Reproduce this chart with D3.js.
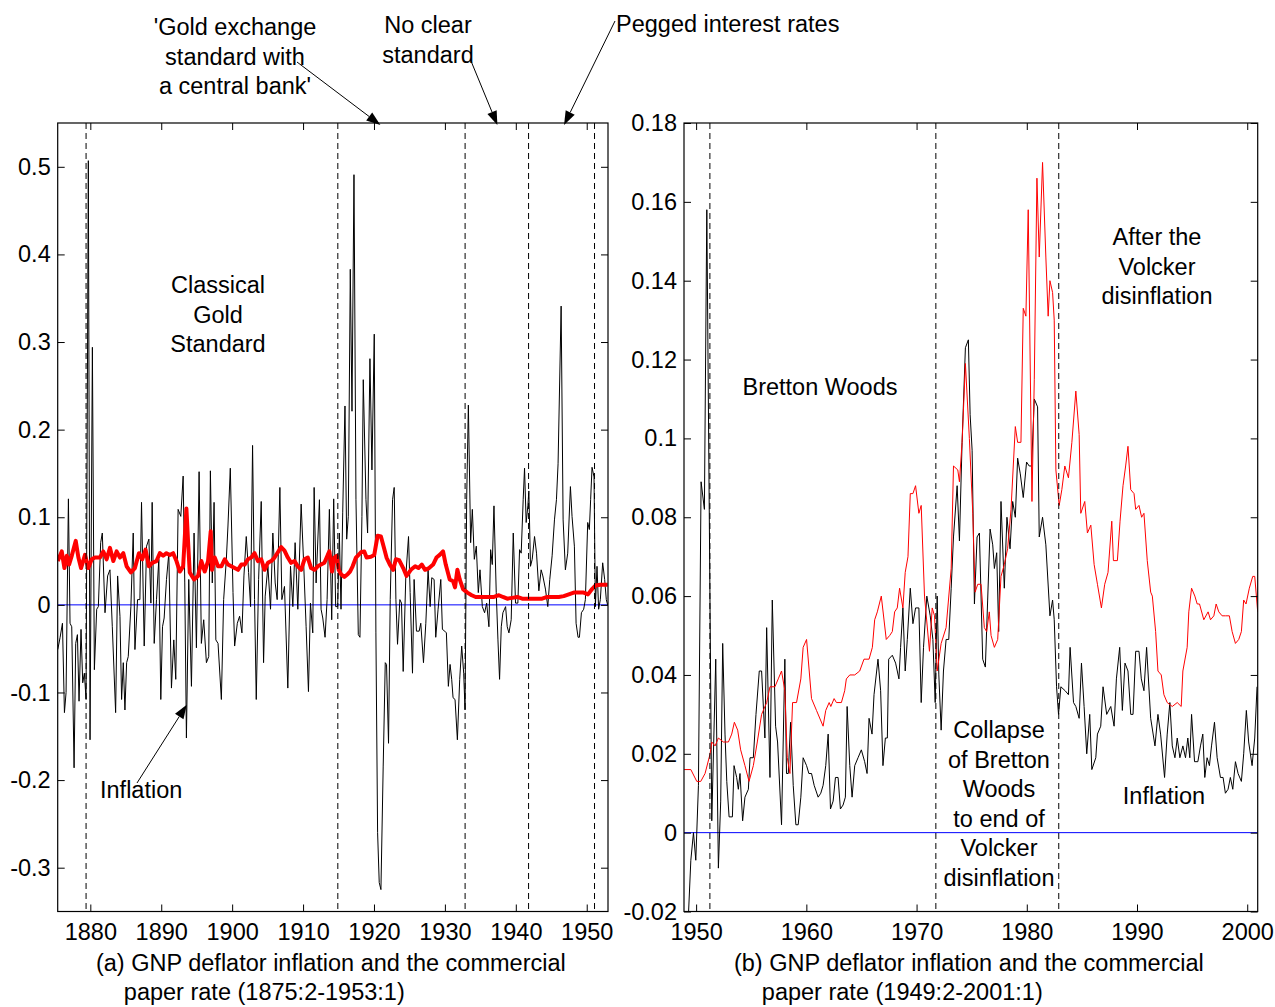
<!DOCTYPE html>
<html>
<head>
<meta charset="utf-8">
<script src="https://cdn.jsdelivr.net/npm/d3@7"></script>
<style>
  body { margin: 0; background: #fff; }
  svg text { font-family: "Liberation Sans", Arial, Helvetica, sans-serif; font-size: 23.5px; fill: #000; }
</style>
</head>
<body>
<svg id="chart" width="1275" height="1007"></svg>
<script>
// ---- panel (a): 1875:2 - 1953:1, [year, value]
var leftInflation = [
  [1875.41,-0.051],[1875.74,-0.037],[1876.07,-0.021],[1876.35,-0.123],[1876.58,-0.1],[1876.91,0.121],
  [1877.14,-0.021],[1877.38,-0.025],[1877.71,-0.186],[1877.94,-0.044],[1878.18,-0.034],[1878.41,-0.11],
  [1878.69,-0.028],[1878.93,-0.089],[1879.16,-0.078],[1879.4,-0.108],[1879.72,0.507],[1879.96,-0.154],
  [1880.29,0.294],[1880.57,-0.074],[1880.9,-0.005],[1881.13,-0.002],[1881.46,0.071],[1881.69,0.082],
  [1882.07,-0.009],[1882.44,0.033],[1882.77,0.04],[1883.1,-0.025],[1883.57,-0.123],[1883.85,0.033],
  [1884.18,-0.013],[1884.41,-0.108],[1884.65,-0.066],[1884.88,-0.12],[1885.12,-0.066],[1885.35,-0.059],
  [1885.72,-0.002],[1886.05,0.082],[1886.29,-0.051],[1886.66,0.006],[1886.99,0.006],[1887.22,0.117],
  [1887.6,-0.047],[1887.93,0.067],[1888.26,0.075],[1888.54,0.002],[1888.72,0.117],[1889.01,-0.044],
  [1889.33,0.006],[1889.66,0.052],[1889.94,-0.108],[1890.18,-0.025],[1890.41,-0.015],[1890.74,0.029],
  [1891.07,0.059],[1891.44,-0.095],[1891.77,-0.04],[1892.05,-0.085],[1892.38,0.109],[1892.76,0.101],
  [1893.09,0.147],[1893.32,0.025],[1893.55,-0.152],[1893.88,0.029],[1894.26,-0.093],[1894.63,0.082],
  [1894.96,-0.049],[1895.34,0.152],[1895.66,-0.044],[1895.99,-0.017],[1896.37,-0.066],[1896.7,-0.059],
  [1896.93,0.153],[1897.2,0.025],[1897.45,0.117],[1897.7,-0.04],[1898.01,-0.044],[1898.48,-0.108],
  [1898.8,0.006],[1899.18,0.052],[1899.41,0.09],[1899.74,0.156],[1900.12,0.014],[1900.35,-0.047],
  [1900.73,-0.021],[1901.05,-0.013],[1901.38,-0.032],[1901.66,0.033],[1901.99,0.078],[1902.32,0.037],
  [1902.6,-0.002],[1902.88,0.182],[1903.16,0.006],[1903.4,-0.108],[1903.73,0.029],[1904.1,0.118],
  [1904.43,-0.066],[1904.66,0.01],[1905.04,0.044],[1905.41,-0.005],[1905.74,0.082],[1906.07,0.025],
  [1906.35,0.006],[1906.73,0.134],[1907.01,0.006],[1907.38,0.021],[1907.85,-0.095],[1908.23,0.044],
  [1908.56,-0.002],[1908.88,0.071],[1909.26,-0.005],[1909.73,0.115],[1910.1,0.044],[1910.43,-0.025],
  [1910.76,-0.099],[1911.04,0.002],[1911.37,-0.032],[1911.56,0.134],[1911.84,0.025],[1912.31,0.12],
  [1912.54,-0.005],[1912.78,-0.015],[1913.1,-0.037],[1913.39,0.006],[1913.71,0.109],[1914.04,-0.017],
  [1914.32,0.121],[1914.6,-0.002],[1914.88,-0.002],[1915.12,0.082],[1915.35,-0.005],[1915.59,0.105],
  [1915.91,0.227],[1916.15,0.075],[1916.38,0.101],[1916.66,0.383],[1916.9,0.221],[1917.18,0.491],
  [1917.46,0.12],[1917.79,-0.034],[1918.02,-0.037],[1918.3,0.101],[1918.49,0.257],[1918.87,0.12],
  [1919.1,0.082],[1919.43,0.281],[1919.71,0.154],[1920.04,0.309],[1920.27,-0.032],[1920.51,-0.26],
  [1920.74,-0.317],[1920.98,-0.325],[1921.3,-0.184],[1921.59,-0.066],[1921.77,-0.068],[1922.05,-0.158],
  [1922.29,0.006],[1922.62,0.12],[1922.85,0.134],[1923.09,0.006],[1923.32,-0.045],[1923.65,0.006],
  [1923.88,0.002],[1924.12,-0.076],[1924.49,0.033],[1924.87,0.078],[1925.1,0.014],[1925.43,-0.078],
  [1925.66,0.029],[1925.99,-0.03],[1926.37,-0.03],[1926.6,-0.021],[1926.98,-0.066],[1927.31,-0.021],
  [1927.63,0.04],[1927.92,-0.002],[1928.15,0.031],[1928.48,0.029],[1928.71,-0.037],[1929.04,-0.005],
  [1929.42,0.029],[1929.65,-0.028],[1929.98,-0.03],[1930.21,-0.032],[1930.49,-0.093],[1930.73,-0.068],
  [1930.96,-0.085],[1931.15,-0.106],[1931.43,-0.108],[1931.76,-0.154],[1932.09,-0.085],[1932.37,-0.047],
  [1932.65,-0.078],[1932.84,-0.12],[1933.07,0.12],[1933.31,0.228],[1933.63,0.071],[1933.87,0.109],
  [1934.15,0.052],[1934.43,0.067],[1934.71,0.014],[1934.95,0.04],[1935.28,-0.002],[1935.6,-0.009],
  [1935.89,0.002],[1936.21,-0.025],[1936.45,0.063],[1936.68,0.046],[1936.92,0.113],[1937.24,0.014],
  [1937.48,-0.04],[1937.71,-0.085],[1937.95,-0.025],[1938.18,-0.009],[1938.56,-0.002],[1938.79,-0.025],
  [1939.03,-0.032],[1939.35,-0.017],[1939.64,0.082],[1939.96,0.002],[1940.29,0.002],[1940.53,0.063],
  [1940.76,0.059],[1941.04,0.12],[1941.23,0.156],[1941.46,0.094],[1941.7,0.113],[1941.84,0.13],
  [1942.07,0.044],[1942.31,0.052],[1942.64,0.078],[1942.92,0.059],[1943.25,0.016],[1943.57,0.04],
  [1943.81,0.033],[1944.18,0.018],[1944.51,-0.002],[1944.79,0.029],[1945.12,0.056],[1945.45,0.097],
  [1945.73,0.12],[1945.96,0.161],[1946.39,0.341],[1946.67,0.097],[1946.99,0.04],[1947.32,0.059],
  [1947.7,0.135],[1947.93,0.101],[1948.26,0.067],[1948.5,-0.021],[1948.78,-0.037],[1948.97,-0.037],
  [1949.25,-0.009],[1949.57,-0.005],[1949.81,0.006],[1950.14,0.094],[1950.37,0.086],[1950.55,0.12],
  [1950.75,0.157],[1951.03,0.146],[1951.22,-0.002],[1951.45,0.044],[1951.68,-0.005],[1951.92,0.006],
  [1952.25,0.048],[1952.53,0.029],[1952.76,0.006],[1952.95,0.0]
];

var leftRate = [
  [1875.41,0.05],[1875.97,0.061],[1876.35,0.042],[1876.68,0.056],[1877.0,0.046],[1877.38,0.056],
  [1877.94,0.073],[1878.32,0.054],[1878.69,0.042],[1879.25,0.057],[1879.72,0.042],[1880.19,0.052],
  [1880.66,0.054],[1881.36,0.054],[1881.83,0.061],[1882.3,0.052],[1882.77,0.065],[1883.24,0.05],
  [1883.71,0.061],[1884.18,0.054],[1884.65,0.059],[1885.12,0.044],[1885.72,0.037],[1886.29,0.042],
  [1886.85,0.059],[1887.32,0.052],[1887.79,0.063],[1888.26,0.044],[1888.72,0.048],[1889.33,0.05],
  [1889.8,0.059],[1890.27,0.056],[1890.74,0.059],[1891.21,0.057],[1891.68,0.059],[1892.15,0.05],
  [1892.62,0.038],[1893.09,0.044],[1893.55,0.11],[1893.79,0.071],[1894.02,0.037],[1894.63,0.029],
  [1895.19,0.033],[1895.66,0.05],[1896.13,0.038],[1896.6,0.05],[1896.98,0.084],[1897.16,0.04],
  [1897.54,0.054],[1898.01,0.044],[1898.48,0.044],[1898.95,0.052],[1899.41,0.046],[1899.88,0.044],
  [1900.35,0.042],[1900.82,0.04],[1901.29,0.046],[1901.76,0.046],[1902.23,0.052],[1902.7,0.054],
  [1903.16,0.059],[1903.63,0.05],[1904.1,0.052],[1904.57,0.04],[1905.04,0.048],[1905.51,0.05],
  [1905.98,0.054],[1906.45,0.06],[1906.91,0.066],[1907.38,0.062],[1907.85,0.054],[1908.32,0.048],
  [1908.79,0.05],[1909.26,0.044],[1909.73,0.04],[1910.2,0.052],[1910.67,0.054],[1911.13,0.042],
  [1911.6,0.04],[1912.07,0.044],[1912.54,0.046],[1913.01,0.048],[1913.48,0.057],[1913.71,0.061],
  [1914.08,0.038],[1914.41,0.054],[1914.74,0.056],[1915.02,0.04],[1915.35,0.035],[1915.82,0.032],
  [1916.29,0.035],[1916.62,0.038],[1916.99,0.044],[1917.46,0.054],[1918.16,0.06],[1918.63,0.061],
  [1918.96,0.054],[1919.57,0.055],[1920.04,0.057],[1920.51,0.079],[1920.98,0.078],[1921.35,0.067],
  [1921.77,0.054],[1922.24,0.046],[1922.71,0.04],[1923.09,0.052],[1923.55,0.051],[1924.12,0.042],
  [1924.59,0.033],[1925.2,0.04],[1925.81,0.044],[1926.27,0.042],[1926.74,0.046],[1927.21,0.04],
  [1927.77,0.042],[1928.34,0.046],[1928.81,0.054],[1929.27,0.057],[1929.74,0.061],[1930.12,0.046],
  [1930.68,0.029],[1931.15,0.027],[1931.43,0.02],[1931.76,0.04],[1932.09,0.029],[1932.56,0.018],
  [1933.17,0.014],[1933.78,0.011],[1934.34,0.009],[1935.28,0.009],[1936.21,0.009],[1936.92,0.009],
  [1937.62,0.011],[1938.18,0.009],[1938.79,0.007],[1939.49,0.008],[1940.2,0.009],[1940.9,0.007],
  [1941.84,0.007],[1942.78,0.007],[1943.71,0.007],[1944.42,0.009],[1945.12,0.009],[1946.06,0.009],
  [1946.76,0.01],[1947.47,0.012],[1948.17,0.014],[1948.87,0.014],[1949.57,0.014],[1950.18,0.012],
  [1950.75,0.018],[1951.22,0.022],[1951.92,0.023],[1952.76,0.023],[1952.95,0.023]
];

// ---- panel (b): 1949:2 - 2001:1, [year, value]
var rightInflation = [
  [1948.95,-0.024],[1949.3,-0.021],[1949.52,-0.007],[1949.76,0.0],[1949.97,-0.007],[1950.21,0.012],
  [1950.45,0.089],[1950.75,0.082],[1950.97,0.158],[1951.42,0.003],[1951.78,0.044],[1952.02,-0.009],
  [1952.23,0.008],[1952.41,0.048],[1952.62,0.025],[1952.78,0.013],[1952.99,0.004],[1953.29,0.004],
  [1953.44,0.017],[1953.68,0.014],[1953.83,0.011],[1953.98,0.015],[1954.22,0.003],[1954.43,0.009],
  [1954.74,0.011],[1954.89,0.019],[1955.19,0.019],[1955.43,0.03],[1955.73,0.041],[1955.94,0.041],
  [1956.24,0.024],[1956.4,0.052],[1956.7,0.014],[1956.91,0.059],[1957.21,0.027],[1957.39,0.023],
  [1957.75,0.002],[1958.05,0.044],[1958.2,0.015],[1958.36,0.015],[1958.57,0.028],[1958.81,0.012],
  [1959.05,0.002],[1959.26,0.002],[1959.5,0.009],[1959.71,0.019],[1960.02,0.017],[1960.23,0.015],
  [1960.47,0.015],[1960.71,0.012],[1961.07,0.009],[1961.31,0.01],[1961.52,0.012],[1961.76,0.017],
  [1961.98,0.025],[1962.19,0.006],[1962.43,0.008],[1962.64,0.014],[1962.88,0.014],[1963.09,0.006],
  [1963.33,0.007],[1963.54,0.009],[1963.7,0.032],[1963.94,0.017],[1964.15,0.009],[1964.39,0.017],
  [1964.69,0.019],[1964.99,0.021],[1965.29,0.018],[1965.51,0.015],[1965.69,0.029],[1965.96,0.025],
  [1966.14,0.035],[1966.5,0.044],[1966.74,0.036],[1966.95,0.017],[1967.17,0.024],[1967.35,0.024],
  [1967.47,0.044],[1967.8,0.045],[1968.1,0.043],[1968.4,0.039],[1968.55,0.047],[1968.76,0.057],
  [1968.97,0.041],[1969.16,0.049],[1969.43,0.062],[1969.67,0.053],[1969.91,0.057],[1970.21,0.057],
  [1970.42,0.033],[1970.63,0.047],[1970.93,0.06],[1971.24,0.055],[1971.48,0.049],[1971.69,0.033],
  [1971.87,0.06],[1972.02,0.04],[1972.23,0.026],[1972.44,0.041],[1972.68,0.049],[1972.92,0.049],
  [1973.14,0.062],[1973.35,0.075],[1973.68,0.088],[1973.89,0.074],[1974.13,0.099],[1974.43,0.123],
  [1974.7,0.125],[1974.86,0.106],[1975.04,0.097],[1975.25,0.058],[1975.49,0.075],[1975.7,0.076],
  [1976.0,0.044],[1976.24,0.042],[1976.45,0.059],[1976.67,0.077],[1976.91,0.073],[1977.06,0.067],
  [1977.27,0.071],[1977.45,0.051],[1977.66,0.084],[1977.96,0.062],[1978.2,0.08],[1978.48,0.072],
  [1978.72,0.084],[1978.96,0.08],[1979.17,0.095],[1979.41,0.091],[1979.68,0.085],[1979.98,0.094],
  [1980.22,0.093],[1980.44,0.093],[1980.68,0.11],[1980.98,0.108],[1981.13,0.075],[1981.43,0.08],
  [1981.73,0.073],[1982.1,0.055],[1982.34,0.059],[1982.49,0.054],[1982.7,0.037],[1982.88,0.03],
  [1983.09,0.037],[1983.48,0.036],[1983.78,0.035],[1983.93,0.047],[1984.24,0.033],[1984.45,0.032],
  [1984.75,0.029],[1984.96,0.043],[1985.2,0.032],[1985.44,0.02],[1985.71,0.03],[1985.9,0.016],
  [1986.26,0.019],[1986.41,0.025],[1986.71,0.027],[1986.92,0.037],[1987.25,0.03],[1987.62,0.032],
  [1987.92,0.027],[1988.13,0.039],[1988.43,0.047],[1988.67,0.031],[1988.91,0.043],[1989.18,0.041],
  [1989.43,0.03],[1989.64,0.03],[1989.88,0.046],[1990.18,0.046],[1990.39,0.039],[1990.63,0.036],
  [1990.87,0.047],[1991.24,0.029],[1991.63,0.022],[1991.9,0.03],[1992.14,0.025],[1992.5,0.014],
  [1992.74,0.025],[1992.98,0.033],[1993.2,0.022],[1993.44,0.019],[1993.65,0.024],[1993.89,0.019],
  [1994.16,0.022],[1994.4,0.019],[1994.61,0.024],[1994.79,0.019],[1994.95,0.03],[1995.22,0.018],
  [1995.52,0.018],[1995.76,0.022],[1995.97,0.025],[1996.15,0.014],[1996.36,0.019],[1996.57,0.017],
  [1996.76,0.022],[1997.03,0.028],[1997.27,0.019],[1997.57,0.014],[1997.81,0.014],[1998.02,0.01],
  [1998.26,0.011],[1998.47,0.014],[1998.69,0.011],[1998.93,0.018],[1999.17,0.015],[1999.47,0.013],
  [1999.68,0.02],[1999.92,0.031],[2000.13,0.023],[2000.44,0.017],[2000.68,0.024],[2000.89,0.037]
];

var rightRate = [
  [1948.91,0.016],[1949.52,0.016],[1950.06,0.013],[1950.42,0.013],[1950.81,0.015],[1951.27,0.02],
  [1951.42,0.023],[1951.72,0.022],[1952.02,0.024],[1952.47,0.023],[1952.93,0.023],[1953.23,0.025],
  [1953.47,0.028],[1953.77,0.026],[1954.04,0.021],[1954.43,0.017],[1954.8,0.013],[1955.19,0.017],
  [1955.55,0.023],[1955.94,0.03],[1956.4,0.033],[1956.7,0.037],[1957.15,0.037],[1957.45,0.039],
  [1957.75,0.041],[1958.05,0.036],[1958.27,0.019],[1958.51,0.015],[1958.75,0.033],[1959.11,0.033],
  [1959.5,0.039],[1959.71,0.047],[1960.02,0.049],[1960.47,0.034],[1960.92,0.031],[1961.52,0.027],
  [1961.76,0.031],[1962.07,0.033],[1962.22,0.032],[1962.52,0.034],[1962.73,0.033],[1963.18,0.033],
  [1963.48,0.036],[1963.63,0.039],[1963.94,0.04],[1964.39,0.04],[1964.84,0.041],[1965.23,0.044],
  [1965.69,0.044],[1965.99,0.047],[1966.2,0.054],[1966.44,0.056],[1966.8,0.06],[1967.25,0.049],
  [1967.56,0.05],[1967.8,0.051],[1968.01,0.056],[1968.25,0.057],[1968.46,0.062],[1968.76,0.057],
  [1968.97,0.066],[1969.22,0.07],[1969.43,0.086],[1969.67,0.086],[1969.91,0.088],[1970.21,0.081],
  [1970.42,0.083],[1970.72,0.06],[1971.17,0.046],[1971.42,0.057],[1971.63,0.055],[1971.87,0.041],
  [1972.23,0.048],[1972.68,0.052],[1973.14,0.067],[1973.35,0.093],[1973.74,0.092],[1973.89,0.089],
  [1974.13,0.099],[1974.43,0.119],[1974.79,0.1],[1975.1,0.081],[1975.31,0.061],[1975.55,0.063],
  [1975.85,0.063],[1976.15,0.052],[1976.36,0.051],[1976.6,0.056],[1976.76,0.05],[1977.06,0.047],
  [1977.36,0.049],[1977.66,0.065],[1977.96,0.068],[1978.26,0.072],[1978.57,0.082],[1978.96,0.103],
  [1979.17,0.099],[1979.47,0.099],[1979.68,0.133],[1979.92,0.131],[1980.13,0.158],[1980.47,0.084],
  [1980.68,0.115],[1980.92,0.166],[1981.13,0.146],[1981.43,0.17],[1981.73,0.146],[1981.94,0.131],
  [1982.1,0.14],[1982.34,0.137],[1982.49,0.13],[1982.64,0.092],[1982.94,0.083],[1983.18,0.087],
  [1983.45,0.093],[1983.78,0.09],[1984.09,0.099],[1984.45,0.112],[1984.75,0.101],[1984.9,0.081],
  [1985.26,0.084],[1985.5,0.076],[1985.81,0.078],[1986.11,0.068],[1986.41,0.063],[1986.77,0.057],
  [1987.07,0.063],[1987.37,0.066],[1987.71,0.079],[1987.86,0.069],[1988.22,0.069],[1988.46,0.079],
  [1988.73,0.088],[1988.97,0.093],[1989.18,0.098],[1989.43,0.087],[1989.73,0.086],[1989.88,0.082],
  [1990.18,0.083],[1990.42,0.08],[1990.63,0.081],[1990.93,0.069],[1991.24,0.061],[1991.39,0.06],
  [1991.69,0.051],[1991.9,0.041],[1992.2,0.04],[1992.44,0.035],[1992.74,0.033],[1993.2,0.032],
  [1993.65,0.033],[1994.01,0.032],[1994.16,0.041],[1994.55,0.047],[1994.7,0.056],[1994.95,0.062],
  [1995.25,0.06],[1995.46,0.058],[1995.67,0.058],[1996.06,0.054],[1996.45,0.056],[1996.67,0.054],
  [1996.97,0.055],[1997.18,0.058],[1997.42,0.056],[1997.72,0.055],[1998.02,0.055],[1998.38,0.055],
  [1998.63,0.051],[1998.93,0.048],[1999.23,0.049],[1999.47,0.051],[1999.68,0.059],[1999.89,0.058],
  [2000.19,0.062],[2000.5,0.065],[2000.68,0.065],[2000.83,0.06],[2000.95,0.056]
];

// regime breaks (dashed lines)
var leftBreaks = [1879.4, 1914.9, 1932.85, 1941.8, 1951.1];
var rightBreaks = [1951.25, 1971.75, 1982.9];

// ticks
var leftXTicks = [1880, 1890, 1900, 1910, 1920, 1930, 1940, 1950];
var leftYTicks = [-0.3, -0.2, -0.1, 0, 0.1, 0.2, 0.3, 0.4, 0.5];
var rightXTicks = [1950, 1960, 1970, 1980, 1990, 2000];
var rightYTicks = [-0.02, 0, 0.02, 0.04, 0.06, 0.08, 0.1, 0.12, 0.14, 0.16, 0.18];

var svg = d3.select('#chart');

function fmtY(d) {
  return d === 0 ? '0' : String(+d.toFixed(2));
}

function addText(lines, x, y, anchor) {
  var t = svg.append('text').attr('text-anchor', anchor || 'middle');
  lines.forEach(function(s, i) {
    t.append('tspan').attr('x', x).attr('y', y + i * 29.5).text(s);
  });
  return t;
}

function arrow(x1, y1, x2, y2) {
  var a = Math.atan2(y2 - y1, x2 - x1);
  var len = 14, hw = 5;
  var bx = x2 - len * Math.cos(a), by = y2 - len * Math.sin(a);
  svg.append('line')
    .attr('x1', x1).attr('y1', y1).attr('x2', bx).attr('y2', by)
    .attr('stroke', '#000').attr('stroke-width', 1);
  svg.append('polygon')
    .attr('points', [
      [x2, y2],
      [bx + hw * Math.sin(a), by - hw * Math.cos(a)],
      [bx - hw * Math.sin(a), by + hw * Math.cos(a)]
    ].map(function(p) { return p.join(','); }).join(' '))
    .attr('fill', '#000');
}

function drawPanel(p) {
  var x = d3.scaleLinear().domain(p.xDomain).range([p.left, p.right]);
  var y = d3.scaleLinear().domain(p.yDomain).range([p.bottom, p.top]);

  svg.append('clipPath').attr('id', p.id + '-clip')
    .append('rect')
    .attr('x', p.left).attr('y', p.top)
    .attr('width', p.right - p.left).attr('height', p.bottom - p.top);

  var plot = svg.append('g').attr('clip-path', 'url(#' + p.id + '-clip)');

  // zero line
  plot.append('line')
    .attr('x1', p.left).attr('x2', p.right)
    .attr('y1', y(0)).attr('y2', y(0))
    .attr('stroke', '#0000ff').attr('stroke-width', 1);

  var line = d3.line()
    .x(function(d) { return x(d[0]); })
    .y(function(d) { return y(d[1]); });

  plot.append('path')
    .datum(p.inflation)
    .attr('d', line)
    .attr('fill', 'none')
    .attr('stroke', '#000')
    .attr('stroke-width', 1)
    .attr('stroke-linejoin', 'round');

  plot.append('path')
    .datum(p.rate)
    .attr('d', line)
    .attr('fill', 'none')
    .attr('stroke', '#ff0000')
    .attr('stroke-width', p.rateWidth)
    .attr('stroke-linejoin', 'round');

  // dashed regime lines
  plot.selectAll('line.brk')
    .data(p.breaks)
    .join('line')
    .attr('class', 'brk')
    .attr('x1', function(d) { return x(d); })
    .attr('x2', function(d) { return x(d); })
    .attr('y1', p.top).attr('y2', p.bottom)
    .attr('stroke', '#000')
    .attr('stroke-width', 1)
    .attr('stroke-dasharray', '6,4');

  // ticks on all four sides, pointing inwards
  svg.append('g')
    .attr('transform', 'translate(' + p.left + ',0)')
    .call(d3.axisLeft(y).tickValues(p.yTicks).tickSize(-7).tickPadding(7).tickFormat(fmtY));
  svg.append('g')
    .attr('transform', 'translate(' + p.right + ',0)')
    .call(d3.axisRight(y).tickValues(p.yTicks).tickSize(-7).tickFormat(''));
  svg.append('g')
    .attr('transform', 'translate(0,' + p.bottom + ')')
    .call(d3.axisBottom(x).tickValues(p.xTicks).tickSize(-7).tickPadding(12).tickFormat(d3.format('d')));
  svg.append('g')
    .attr('transform', 'translate(0,' + p.top + ')')
    .call(d3.axisTop(x).tickValues(p.xTicks).tickSize(-7).tickFormat(''));
  svg.selectAll('.domain').remove();

  svg.append('rect')
    .attr('x', p.left).attr('y', p.top)
    .attr('width', p.right - p.left).attr('height', p.bottom - p.top)
    .attr('fill', 'none').attr('stroke', '#000').attr('stroke-width', 1.2);

  // caption
  var cx = (p.left + p.right) / 2;
  svg.append('text').attr('x', cx - 2).attr('y', 971).attr('text-anchor', 'middle').text(p.caption[0]);
  svg.append('text').attr('x', cx - 209).attr('y', 1000).attr('text-anchor', 'start').text(p.caption[1]);

  return { x: x, y: y };
}

var a = drawPanel({
  id: 'a', left: 57.7, right: 608, top: 123, bottom: 911.5,
  xDomain: [1875.4, 1953.0], yDomain: [-0.35, 0.55],
  inflation: leftInflation, rate: leftRate, rateWidth: 4,
  breaks: leftBreaks, xTicks: leftXTicks, yTicks: leftYTicks,
  caption: ['(a) GNP deflator inflation and the commercial', 'paper rate (1875:2-1953:1)']
});

var b = drawPanel({
  id: 'b', left: 684, right: 1257.7, top: 123, bottom: 911.5,
  xDomain: [1948.9, 2000.95], yDomain: [-0.02, 0.18],
  inflation: rightInflation, rate: rightRate, rateWidth: 1,
  breaks: rightBreaks, xTicks: rightXTicks, yTicks: rightYTicks,
  caption: ['(b) GNP deflator inflation and the commercial', 'paper rate (1949:2-2001:1)']
});

// annotations, panel (a)
addText(["'Gold exchange", 'standard with', "a central bank'"], 235, 35);
arrow(297, 62, a.x(1920.9), a.y(0.55) + 2);
addText(['No clear', 'standard'], 428, 33);
arrow(471, 61, a.x(1937.4), a.y(0.55) + 2);
addText(['Pegged interest rates'], 616, 32, 'start');
arrow(615, 21, a.x(1946.8), a.y(0.55) + 2);
addText(['Classical', 'Gold', 'Standard'], 218, 293);
addText(['Inflation'], 100, 798, 'start');
arrow(137, 783, a.x(1893.6), a.y(-0.114));

// annotations, panel (b)
addText(['Bretton Woods'], 820, 395);
addText(['After the', 'Volcker', 'disinflation'], 1157, 245);
addText(['Collapse', 'of Bretton', 'Woods', 'to end of', 'Volcker', 'disinflation'], 999, 738);
addText(['Inflation'], 1164, 804);
</script>
</body>
</html>
